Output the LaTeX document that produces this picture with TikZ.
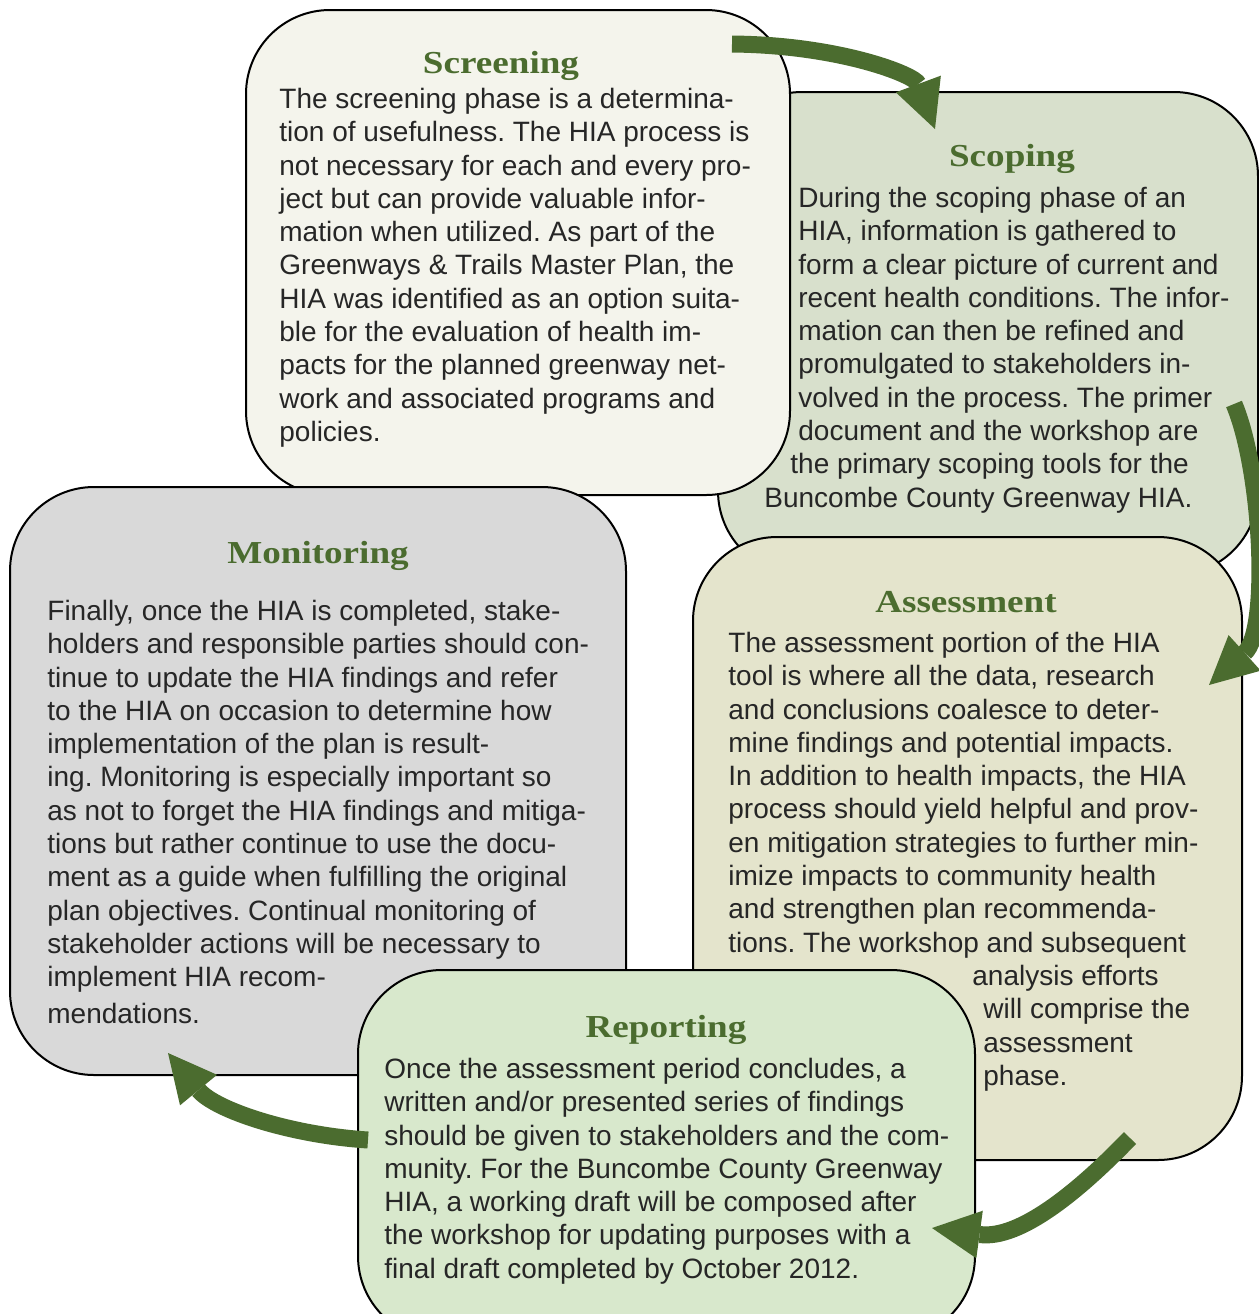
\documentclass[tikz,border=0pt]{standalone}
\usepackage{fontspec}
\setmainfont{Liberation Sans}
\newfontfamily\titlefont{Liberation Serif}[FakeStretch=1.16]
\usetikzlibrary{arrows.meta}
\definecolor{scrfill}{HTML}{F4F4EC}
\definecolor{scofill}{HTML}{D8E0CC}
\definecolor{assfill}{HTML}{E4E4CC}
\definecolor{monfill}{HTML}{D9D9D9}
\definecolor{repfill}{HTML}{D8E8CC}
\definecolor{hiagreen}{HTML}{4B6C2F}
\definecolor{bodytext}{HTML}{262626}
\frenchspacing
\begin{document}
\begin{tikzpicture}[x=0.5pt,y=-0.5pt,
  phase/.style={draw=black, line width=1pt, rounded corners=42pt, inner sep=0pt},
  ttl/.style={font=\titlefont\bfseries\fontsize{16pt}{18pt}\selectfont, text=hiagreen, anchor=base, inner sep=0pt},
  body/.style={font=\frenchspacing\fontsize{14pt}{16.65pt}\selectfont, text=bodytext, align=left, anchor=north west, inner sep=0pt},
  flow/.style={draw=hiagreen, line width=8.5pt, -{Triangle[length=24pt,width=24pt,line width=0pt]}}
]
\useasboundingbox (0,0) rectangle (1259,1314);
\fill[white] (0,0) rectangle (1259,1314);

% boxes
\node[phase, fill=scofill, minimum width=270pt, minimum height=241.5pt] (scoping) at (988,333.5) {};
\node[phase, fill=scrfill, minimum width=272pt, minimum height=242.5pt] (screening) at (518,252.5) {};
\node[phase, fill=monfill, minimum width=308pt, minimum height=294pt] (monitoring) at (318,781) {};
\node[phase, fill=assfill, minimum width=274.5pt, minimum height=311.5pt] (assessment) at (967.5,848.5) {};
\node[phase, fill=repfill, minimum width=308.5pt, minimum height=185pt] (reporting) at (666.5,1155) {};

% screening
\node[ttl] (scrT) at (501,73) {Screening};
\node[body] (scrB) at (279,84) {\rule{0pt}{12pt}The screening phase is a determina-\\
tion of usefulness. The HIA process is\\
not necessary for each and every pro-\\
ject but can provide valuable infor-\\
mation when utilized. As part of the\\
Greenways \& Trails Master Plan, the\\
HIA was identified as an option suita-\\
ble for the evaluation of health im-\\
pacts for the planned greenway net-\\
work and associated programs and\\
policies.};

% scoping
\node[ttl] (scoT) at (1012,166) {Scoping};
\node[body] (scoB) at (798,183) {\rule{0pt}{12pt}During the scoping phase of an\\
HIA, information is gathered to\\
form a clear picture of current and\\
recent health conditions. The infor-\\
mation can then be refined and\\
promulgated to stakeholders in-\\
volved in the process. The primer\\
document and the workshop are\\
\hspace*{-4pt}the primary scoping tools for the\\
\hspace*{-17pt}Buncombe County Greenway HIA.};

% assessment
\node[ttl] (assT) at (966,612) {Assessment};
\node[body] (assB) at (728,628) {\rule{0pt}{12pt}The assessment portion of the HIA\\
tool is where all the data, research\\
and conclusions coalesce to deter-\\
mine findings and potential impacts.\\
In addition to health impacts, the HIA\\
process should yield helpful and prov-\\
en mitigation strategies to further min-\\
imize impacts to community health\\
and strengthen plan recommenda-\\
tions. The workshop and subsequent\\
\hspace*{122pt}analysis efforts\\
\hspace*{127.5pt}will comprise the\\
\hspace*{127.5pt}assessment\\
\hspace*{127.5pt}phase.};

% monitoring
\node[ttl] (monT) at (318,563) {Monitoring};
\node[body] (monB) at (47,596) {\rule{0pt}{12pt}Finally, once the HIA is completed, stake-\\
holders and responsible parties should con-\\
tinue to update the HIA findings and refer\\
to the HIA on occasion to determine how\\
implementation of the plan is result-\\
ing. Monitoring is especially important so\\
as not to forget the HIA findings and mitiga-\\
tions but rather continue to use the docu-\\
ment as a guide when fulfilling the original\\
plan objectives. Continual monitoring of\\
stakeholder actions will be necessary to\\
implement HIA recom-\\[1.5pt]
mendations.};

% reporting
\node[ttl] (repT) at (666,1037) {Reporting};
\node[body] (repB) at (384,1054) {\rule{0pt}{12pt}Once the assessment period concludes, a\\
written and/or presented series of findings\\
should be given to stakeholders and the com-\\
munity. For the Buncombe County Greenway\\
HIA, a working draft will be composed after\\
the workshop for updating purposes with a\\
final draft completed by October 2012.};

% arrows
\coordinate (a1s) at (732,44);
\coordinate (a1e) at (935,129);
\coordinate (a2s) at (1234,404);
\coordinate (a2e) at (1209,685);
\coordinate (a3s) at (1130,1138);
\coordinate (a3e) at (932,1228);
\coordinate (a4s) at (368,1140);
\coordinate (a4e) at (168,1053);
\draw[flow] (a1s) .. controls (840,45) and (915,75) .. (a1e);
\draw[flow] (a2s) .. controls (1262,470) and (1270,630) .. (a2e);
\draw[flow] (a3s) .. controls (1080,1190) and (1020,1240) .. (a3e);
\draw[flow] (a4s) .. controls (290,1135) and (215,1110) .. (a4e);
\end{tikzpicture}
\end{document}
